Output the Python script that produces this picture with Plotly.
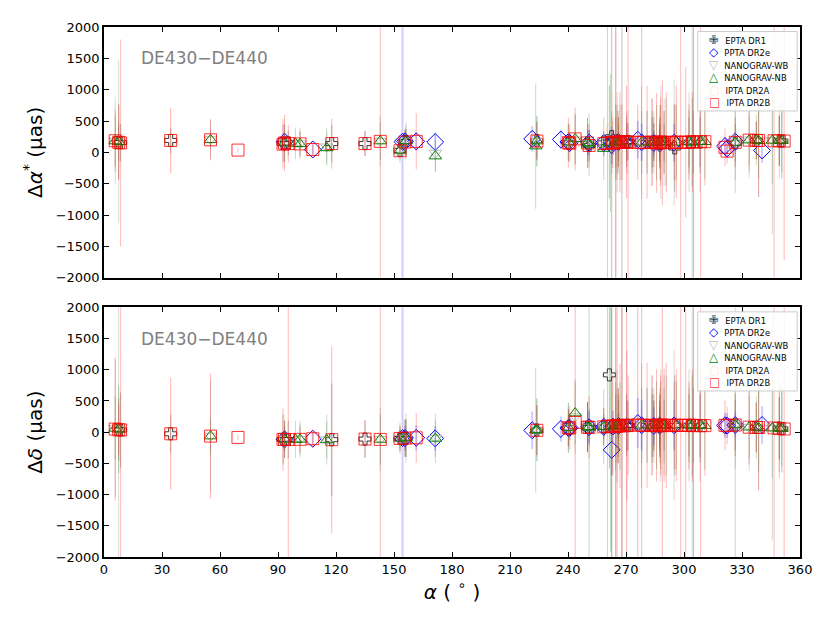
import plotly.graph_objects as go
from plotly.subplots import make_subplots

# EPTA DR1
epta_ra = [7.6, 8.6, 34.5, 92.6, 93.4, 95.3, 117.8, 135.0, 153.1, 155.7, 156.2, 223.9,
           240.2, 250.1, 250.9, 258.5, 261.4, 262.6, 264.7, 266.1, 267.9, 270.3, 270.5,
           271.1, 280.9, 283.5, 284.4, 287.4, 287.5, 289.7, 295.2, 302.6, 304.9, 308.3,
           326.5, 337.4, 349.3, 350.6]
epta_da = [160, 155, 190, 140, 150, 150, 140, 140, 30, 170, 175, 190,
           160, 150, 110, 150, 165, 250, 160, 165, 170, 170, 165,
           175, 160, 160, 165, 160, 140, 155, 70, 160, 170, 165,
           150, 190, 185, 180]
epta_ea = [300, 300, 200, 300, 150, 200, 300, 200, 100, 200, 200, 300,
           150, 200, 250, 100, 900, 5000, 400, 300, 5000, 400, 300,
           300, 500, 400, 300, 200, 400, 300, 700, 400, 5000, 400,
           300, 300, 400, 600]
epta_dd = [40, 35, -26, -115, -112, -118, -120, -110, -100, -95, -95, 35,
           70, 80, 75, 85, 918, 85, 100, 105, 110, 110, 110,
           105, 110, 105, 110, 105, 100, 110, 110, 110, 110, 105,
           115, 80, 65, 55]
epta_ed = [500, 600, 300, 400, 200, 300, 900, 300, 150, 300, 300, 400,
           300, 400, 300, 200, 1500, 5000, 500, 400, 5000, 500, 400,
           400, 600, 500, 400, 300, 500, 400, 800, 500, 5000, 500,
           400, 400, 500, 700]

# PPTA DR2e
ppta_ra = [93.4, 108.0, 154.4, 155.7, 161.5, 171.3, 221.5, 236.3, 240.2, 240.9, 250.9,
           258.5, 262.6, 263.2, 266.1, 276.1, 278.1, 284.4, 287.4, 294.9, 321.2, 322.3,
           326.5, 340.4]
ppta_da = [170, 45, 170, 175, 175, 165, 215, 205, 165, 150, 155,
           150, 115, 160, 165, 200, 160, 150, 140, 155, 100, 60,
           170, 30]
ppta_ea = [150, 80, 5000, 150, 150, 150, 200, 150, 100, 150, 200,
           100, 300, 200, 150, 300, 300, 200, 100, 300, 150, 150,
           150, 200]
ppta_dd = [-115, -105, -95, -95, -90, -100, 30, 52, 68, 70, 80,
           85, -283, 90, 100, 147, 110, 100, 105, 110, 110, 105,
           115, 115]
ppta_ed = [150, 100, 5000, 200, 200, 200, 300, 200, 150, 200, 250,
           150, 400, 250, 200, 400, 400, 300, 150, 400, 200, 200,
           200, 300]

# NANOGRAV-WB
wb_ra = [5.8, 7.6, 55.1, 93.4, 101.4, 115.2, 142.9, 153.1, 156.2, 171.4, 223.9,
         240.2, 243.7, 250.1, 258.5, 264.7, 265.4, 266.1, 278.1, 283.5, 284.4,
         287.4, 288.0, 289.7, 294.9, 302.6, 304.3, 308.3, 326.5, 333.7, 338.6,
         345.7, 349.3]
wb_da = [185, 170, 205, 150, 140, 90, 180, 30, 180, -10, 175,
         160, 200, 150, 130, 165, 160, 165, 160, 160, 160,
         160, 155, 160, 150, 165, 160, 170, 160, 200, 185,
         190, 190]
wb_ea = [700, 1300, 300, 300, 250, 300, 400, 150, 300, 300, 400,
         300, 400, 400, 200, 5000, 800, 500, 900, 700, 500,
         300, 900, 700, 1000, 800, 5000, 800, 600, 600, 900,
         1500, 600]
wb_dd = [65, 50, -60, -112, -112, -120, -115, -98, -93, -98, 40,
         72, 250, 82, 88, 95, 100, 102, 110, 108, 105,
         108, 105, 110, 112, 110, 105, 110, 115, 82, 72,
         66, 60]
wb_ed = [1100, 5000, 900, 300, 300, 400, 500, 200, 400, 400, 500,
         400, 600, 400, 300, 5000, 900, 600, 1000, 800, 600,
         400, 900, 800, 1200, 900, 5000, 900, 700, 700, 1000,
         1800, 700]

# NANOGRAV-NB
nb_ra = [5.8, 7.6, 55.1, 93.4, 99.0, 101.4, 115.2, 142.9, 153.1, 156.2, 171.4,
         223.3, 223.9, 240.2, 243.7, 250.1, 250.9, 258.5, 262.0, 264.7, 265.4,
         266.1, 266.9, 278.1, 283.5, 284.4, 285.8, 287.5, 288.0, 289.7, 290.8,
         296.0, 302.6, 304.3, 308.3, 310.8, 326.5, 333.7, 337.4, 338.6, 345.7,
         349.3, 350.6]
nb_da = [180, 170, 200, 150, 140, 135, 70, 180, 30, 180, -60,
         100, 180, 160, 215, 150, 130, 60, 150, 160, 165,
         165, 160, 160, 160, 160, 155, 160, 155, 160, 165,
         160, 165, 160, 170, 170, 155, 195, 195, 185, 190,
         190, 185]
nb_ea = [400, 600, 150, 300, 250, 200, 250, 300, 200, 250, 250,
         1000, 400, 300, 400, 300, 500, 500, 1100, 600, 500,
         400, 600, 500, 500, 300, 600, 400, 600, 500, 700,
         600, 500, 700, 500, 600, 800, 400, 400, 600, 700,
         400, 500]
nb_dd = [60, 45, -63, -115, -118, -115, -125, -116, -100, -95, -100,
         30, 35, 70, 305, 80, 78, 85, 90, 95, 100,
         100, 100, 110, 105, 105, 110, 110, 105, 110, 105,
         110, 110, 105, 110, 105, 115, 80, 75, 70, 65,
         60, 55]
nb_ed = [500, 700, 300, 300, 300, 250, 300, 400, 250, 300, 300,
         1000, 500, 400, 500, 400, 2200, 600, 2000, 700, 600,
         500, 700, 600, 600, 400, 700, 500, 700, 600, 800,
         700, 600, 800, 600, 700, 2500, 500, 500, 700, 800,
         500, 600]

# IPTA DR2A
ia_ra = [7.6, 34.5, 93.4, 108.0, 153.1, 240.2, 243.7, 263.0, 266.1, 276.1, 287.4,
         296.0, 326.5]
ia_da = [165, 190, 150, 45, 25, 160, 170, 375, 165, 170, 160, 160, 160]
ia_ea = [500, 500, 400, 120, 150, 300, 400, 600, 400, 500, 300, 700, 400]
ia_dd = [45, -26, -115, -105, -100, 70, 90, 95, 105, 120, 105, 110, 115]
ia_ed = [600, 800, 400, 150, 200, 300, 500, 700, 500, 600, 400, 800, 500]

# IPTA DR2B
ib_ra = [5.8, 7.6, 8.6, 34.5, 55.1, 69.3, 92.6, 93.4, 95.3, 101.4, 108.0, 117.8,
         135.0, 142.9, 153.1, 155.7, 161.5, 223.9, 240.2, 240.9, 243.7, 250.1,
         250.9, 258.5, 260.4, 262.6, 263.2, 264.7, 265.4, 266.1, 266.9, 267.9,
         270.3, 270.5, 271.1, 276.1, 278.1, 280.9, 283.5, 284.4, 285.8, 287.4,
         287.5, 287.9, 288.8, 289.7, 290.8, 294.9, 296.0, 298.3, 300.9, 302.6,
         304.3, 304.9, 308.6, 310.8, 321.2, 322.3, 326.5, 333.7, 337.4, 338.6,
         346.6, 349.3, 351.8]
ib_da = [185, 160, 150, 190, 200, 36, 130, 150, 140, 135, 45, 140,
         140, 175, 25, 165, 175, 180, 155, 145, 215, 150,
         110, 140, 150, 155, 150, 160, 160, 165, 160, 165,
         165, 160, 165, 160, 155, 160, 160, 160, 150, 155,
         160, 165, 155, 160, 160, 155, 165, 160, 160, 165,
         165, 165, 170, 170, 80, 20, 160, 195, 190, 190,
         185, 185, 180]
ib_ea = [500, 600, 1650, 520, 330, 30, 400, 450, 300, 200, 100, 400,
         200, 5000, 100, 200, 450, 300, 400, 300, 500, 400,
         350, 200, 5000, 500, 400, 5000, 600, 400, 800, 600,
         900, 500, 5000, 600, 5000, 900, 700, 400, 800, 300,
         600, 700, 1000, 500, 800, 600, 900, 5000, 1200, 600,
         800, 500, 5000, 700, 300, 200, 400, 500, 300, 900,
         5000, 400, 1900]
ib_dd = [50, 40, 35, -26, -63, -84, -116, -115, -118, -115, -105, -121,
         -110, -116, -100, -95, -90, 30, 70, 68, 157, 80,
         78, 85, 95, 95, 100, 95, 100, 105, 100, 105,
         110, 105, 110, 115, 110, 110, 110, 105, 110, 105,
         105, 110, 115, 110, 105, 110, 110, 110, 110, 110,
         105, 110, 105, 105, 110, 105, 115, 80, 75, 75,
         68, 60, 52]
ib_ed = [1150, 400, 5000, 900, 1000, 40, 500, 300, 5000, 200, 150, 1500,
         300, 5000, 200, 300, 400, 400, 300, 350, 5000, 400,
         500, 300, 5000, 5000, 800, 5000, 5000, 600, 1000, 5000,
         5000, 1200, 800, 5000, 5000, 1000, 800, 500, 900, 400,
         600, 800, 5000, 900, 1000, 700, 900, 5000, 5000, 700,
         900, 600, 5000, 800, 400, 300, 500, 600, 400, 1000,
         5000, 800, 5000]

datasets = [
    ("EPTA DR1", epta_ra, epta_da, epta_ea, epta_dd, epta_ed,
     "cross-open", "#333333", "rgba(0,0,0,0.25)", 10, "✙", 1),
    ("PPTA DR2e", ppta_ra, ppta_da, ppta_ea, ppta_dd, ppta_ed,
     "diamond-open", "blue", "rgba(0,0,255,0.2)", 13, "◇", 2),
    ("NANOGRAV-WB", wb_ra, wb_da, wb_ea, wb_dd, wb_ed,
     "triangle-down-open", "#bbbbbb", "rgba(128,128,128,0.3)", 11, "▽", 1),
    ("NANOGRAV-NB", nb_ra, nb_da, nb_ea, nb_dd, nb_ed,
     "triangle-up-open", "green", "rgba(0,128,0,0.25)", 11, "△", 1),
    ("IPTA DR2A", ia_ra, ia_da, ia_ea, ia_dd, ia_ed,
     "circle-open", "rgba(255,165,60,0.3)", "rgba(255,165,60,0.15)", 12, "○", 1),
    ("IPTA DR2B", ib_ra, ib_da, ib_ea, ib_dd, ib_ed,
     "square-open", "rgba(255,0,0,0.8)", "rgba(255,0,0,0.28)", 12, "□", 1),
]

fig = make_subplots(rows=2, cols=1, shared_xaxes=True, vertical_spacing=0.056)

for name, ra, da, ea, dd, ed, sym, col, ecol, size, glyph, thick in datasets:
    mk = dict(symbol=sym, size=size, color=col, line=dict(width=1, color=col))
    fig.add_trace(go.Scatter(
        x=ra, y=da, mode="markers", name=name, showlegend=False, marker=mk,
        error_y=dict(type="data", array=ea, color=ecol, thickness=thick, width=0),
    ), row=1, col=1)
    fig.add_trace(go.Scatter(
        x=ra, y=dd, mode="markers", name=name, showlegend=False, marker=mk,
        error_y=dict(type="data", array=ed, color=ecol, thickness=thick, width=0),
    ), row=2, col=1)

axis_style = dict(
    showline=True, linecolor="black", linewidth=1.5, mirror="ticks",
    ticks="inside", ticklen=5, tickwidth=1.2, tickcolor="black",
    showgrid=False, zeroline=False,
    tickfont=dict(family="DejaVu Sans", size=13, color="black"),
)

fig.update_xaxes(axis_style)
fig.update_yaxes(axis_style)
fig.update_xaxes(range=[0, 360], dtick=30, tick0=0)
fig.update_xaxes(showticklabels=False, row=1, col=1)
fig.update_xaxes(
    title=dict(text="<i>α</i> ( <sup>∘</sup> )", font=dict(family="DejaVu Sans", size=20),
               standoff=6),
    row=2, col=1)
fig.update_yaxes(range=[-2000, 2000], dtick=500)
fig.update_yaxes(title=dict(text="Δ<i>α</i><sup>*</sup> (μas)",
                            font=dict(family="DejaVu Sans", size=20), standoff=8),
                 row=1, col=1)
fig.update_yaxes(title=dict(text="Δ<i>δ</i> (μas)",
                            font=dict(family="DejaVu Sans", size=20), standoff=8),
                 row=2, col=1)

fig.update_layout(yaxis=dict(domain=[0.527, 1.0]), yaxis2=dict(domain=[0.0, 0.471]))

# compact legend text: coloured symbol glyph + label per line
legend_lines = []
for d in datasets:
    legend_lines.append(
        f"<span style='color:{d[7]};font-size:12px'>{d[10]}</span>"
        f"\u00a0\u00a0<span style='font-size:8.4px'>{d[0]}</span>"
    )
legend_text = "<br>".join(legend_lines)

for xd, yd in [("x domain", "y domain"), ("x2 domain", "y2 domain")]:
    fig.add_annotation(
        text="DE430−DE440", xref=xd, yref=yd,
        x=0.05, y=0.875, xanchor="left", yanchor="middle", showarrow=False,
        font=dict(family="DejaVu Sans", size=17, color="gray"),
    )
    fig.add_shape(
        type="rect", xref=xd, yref=yd, x0=0.853, x1=0.996, y0=0.665, y1=0.982,
        fillcolor="rgba(255,255,255,0.85)", line=dict(color="#cccccc", width=1),
        layer="above",
    )
    fig.add_annotation(
        text=legend_text, xref=xd, yref=yd, x=0.866, y=0.824,
        xanchor="left", yanchor="middle", align="left", showarrow=False,
        font=dict(family="DejaVu Sans", size=9.6, color="black"),
    )

fig.update_layout(
    width=830, height=623,
    margin=dict(l=96, r=38, t=12, b=74),
    plot_bgcolor="white", paper_bgcolor="white",
    font=dict(family="DejaVu Sans", color="black"),
    showlegend=False,
)

fig.write_html("out.html")
